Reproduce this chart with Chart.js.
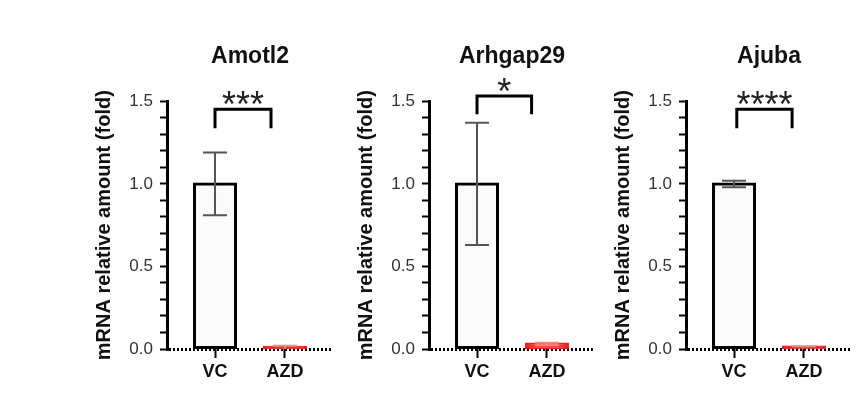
<!DOCTYPE html>
<html><head><meta charset="utf-8">
<script src="https://cdn.jsdelivr.net/npm/chart.js@4.4.1/dist/chart.umd.min.js"></script>
<style>
html,body{margin:0;padding:0;background:#fff;width:865px;height:418px;overflow:hidden;}
.p{position:absolute;top:0;width:256px;height:418px;}
</style></head><body>
<div class="p" style="left:77px"><canvas id="c0" width="256" height="418"></canvas></div>
<div class="p" style="left:339px"><canvas id="c1" width="256" height="418"></canvas></div>
<div class="p" style="left:596px"><canvas id="c2" width="256" height="418"></canvas></div>
<script>
// ---- data ----
const panelTitles = ['Amotl2', 'Arhgap29', 'Ajuba'];
const categories = ['VC', 'AZD'];
const amotl2Mean = [1.0, 0.01];
const amotl2Err = [0.19, 0.01];
const arhgap29Mean = [1.0, 0.03];
const arhgap29Err = [0.37, 0.008];
const ajubaMean = [1.0, 0.012];
const ajubaErr = [0.02, 0.004];
const sigLabels = ['***', '*', '****'];
const yAxisTitle = 'mRNA relative amount (fold)';
const yMin = 0, yMax = 1.5, yStep = 0.1, yLabelStep = 0.5;

const means = [amotl2Mean, arhgap29Mean, ajubaMean];
const errs = [amotl2Err, arhgap29Err, ajubaErr];
// bracket: [x1, x2, yTop, yLegBottom] in data units
const brackets = [[0, 0.8, 1.452, 1.337], [0, 0.78, 1.533, 1.422], [0.04, 0.83, 1.452, 1.337]];

const FONT = "'Liberation Sans', Arial, sans-serif";
Chart.defaults.font.family = FONT;

const errorBarPlugin = {
  id: 'errBars',
  afterDatasetsDraw(chart, args, opts) {
    const {ctx} = chart;
    const x = chart.scales.x, y = chart.scales.y;
    const ds = chart.data.datasets[0];
    ds.data.forEach((pt, i) => {
      const err = opts.errors[i];
      const px = x.getPixelForValue(pt.x);
      const top = y.getPixelForValue(pt.y + err);
      const lowV = pt.y - err;
      const bot = y.getPixelForValue(Math.max(0, lowV));
      ctx.save();
      ctx.strokeStyle = opts.colors[i];
      ctx.lineWidth = 2;
      ctx.beginPath();
      ctx.moveTo(px, top); ctx.lineTo(px, bot);
      ctx.moveTo(px - 12, top); ctx.lineTo(px + 12, top);
      if (lowV > 0.02) { ctx.moveTo(px - 12, bot); ctx.lineTo(px + 12, bot); }
      ctx.stroke();
      ctx.restore();
    });
  }
};

const sigPlugin = {
  id: 'sig',
  afterDraw(chart, args, opts) {
    const {ctx} = chart;
    const x = chart.scales.x, y = chart.scales.y;
    const [x1v, x2v, ytv, ybv] = opts.bracket;
    const x1 = x.getPixelForValue(x1v), x2 = x.getPixelForValue(x2v);
    const yt = y.getPixelForValue(ytv), yb = y.getPixelForValue(ybv);
    ctx.save();
    ctx.strokeStyle = '#000';
    ctx.lineWidth = 3;
    ctx.lineJoin = 'miter';
    ctx.beginPath();
    ctx.moveTo(x1, yb); ctx.lineTo(x1, yt); ctx.lineTo(x2, yt); ctx.lineTo(x2, yb);
    ctx.stroke();
    ctx.font = '36px ' + FONT;
    ctx.fillStyle = '#222';
    ctx.textAlign = 'center';
    ctx.textBaseline = 'alphabetic';
    const m = ctx.measureText(opts.label);
    const targetBottom = yt - 4;
    ctx.fillText(opts.label, (x1 + x2) / 2, targetBottom - m.actualBoundingBoxDescent);
    ctx.restore();
  }
};

function makeChart(idx) {
  const data = categories.map((c, i) => ({x: i, y: means[idx][i]}));
  new Chart(document.getElementById('c' + idx), {
    type: 'bar',
    data: {
      datasets: [{
        data: data,
        barThickness: 41,
        inflateAmount: 1.5,
        backgroundColor: ['#fbfbfb', '#ec3327'],
        borderColor: ['#000000', '#e8231d'],
        borderWidth: 3,
        borderSkipped: false
      }]
    },
    plugins: [errorBarPlugin, sigPlugin],
    options: {
      responsive: false,
      animation: false,
      layout: {padding: {left: 0, right: 0, top: 0, bottom: 19}},
      plugins: {
        legend: {display: false},
        tooltip: {enabled: false},
        title: {
          display: true,
          text: panelTitles[idx],
          fullSize: false,
          color: '#111',
          font: {size: 23, weight: 'bold', family: FONT},
          padding: {top: 43, bottom: 30.8}
        },
        errBars: {errors: errs[idx], colors: ['#555555', '#f08a84']},
        sig: {bracket: brackets[idx], label: sigLabels[idx]}
      },
      scales: {
        x: {
          type: 'linear',
          offset: false,
          min: -0.686,
          max: 1.686,
          afterBuildTicks: (s) => { s.ticks = categories.map((c, i) => ({value: i})); },
          afterFit: (s) => { s.height = 50; },
          ticks: {
            autoSkip: false,
            maxRotation: 0,
            padding: 3,
            color: '#111',
            font: {size: 18, weight: 'bold', family: FONT},
            callback: (v) => categories[v] !== undefined ? categories[v] : ''
          },
          grid: {offset: false, drawOnChartArea: false, drawTicks: true, tickLength: 9, tickWidth: 2, tickColor: '#000'},
          border: {display: false}
        },
        y: {
          min: yMin,
          max: yMax,
          afterFit: (s) => { s.width = 90; },
          ticks: {
            stepSize: yStep,
            autoSkip: false,
            padding: 7,
            color: '#333',
            font: {size: 17, family: FONT},
            callback: (v) => {
              const r = v / yLabelStep;
              return Math.abs(r - Math.round(r)) < 1e-6 ? v.toFixed(1) : '';
            }
          },
          grid: {
            drawOnChartArea: true,
            drawTicks: true,
            tickLength: 7,
            tickWidth: 2,
            tickColor: '#000',
            lineWidth: 3,
            color: (c) => (c.tick && Math.abs(c.tick.value) < 1e-9) ? '#000' : 'rgba(0,0,0,0)'
          },
          border: {display: true, color: '#000', width: 3, dash: [2, 2]},
          title: {
            display: true,
            text: yAxisTitle,
            color: '#111',
            font: {size: 20, weight: 'bold', family: FONT},
            padding: {top: 15, bottom: 0}
          }
        }
      }
    }
  });
}
[0, 1, 2].forEach(makeChart);
</script>
</body></html>
